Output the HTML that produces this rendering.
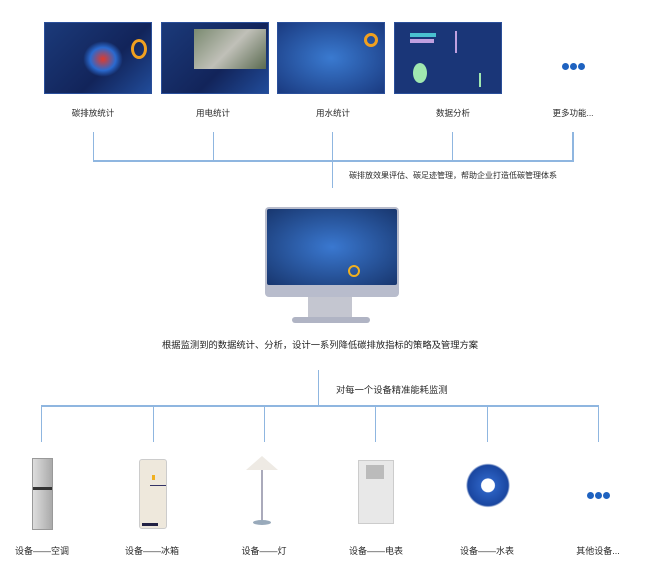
<!DOCTYPE html>
<html><head><meta charset="utf-8"><style>
body{margin:0;width:657px;height:572px;background:#fff;position:relative;overflow:hidden;font-family:"Liberation Sans","Noto Sans CJK SC",sans-serif;color:#2a2a2a}
.a{position:absolute}
.l{position:absolute;background:#8fb6e0}
.t{position:absolute;font-size:9px;white-space:nowrap;transform:translateX(-50%)}
.scr{position:absolute;top:22px;width:108px;height:72px;background:linear-gradient(135deg,#1b3a7a,#12245a 60%,#214c9a);border:1px solid #2a4f9a;box-sizing:border-box}
.dot{display:inline-block;width:7px;height:7px;border-radius:50%;background:#1e62c0;margin:0 0.5px}
</style></head><body>
<div class="scr" style="left:44px"><div class="a" style="left:38px;top:18px;width:40px;height:36px;background:radial-gradient(#e03a2a,#2a6ad0 45%,transparent 70%)"></div><div class="a" style="left:86px;top:16px;width:10px;height:14px;border:3px solid #f0a020;border-radius:50%"></div></div>
<div class="scr" style="left:161px"><div class="a" style="left:32px;top:6px;width:72px;height:40px;background:linear-gradient(135deg,#7a8a70,#c0c0b8,#5a6a50)"></div></div>
<div class="scr" style="left:277px;background:radial-gradient(#3a7ad0,#1a3a80)"><div class="a" style="left:86px;top:10px;width:8px;height:8px;border:3px solid #f0a020;border-radius:50%"></div></div>
<div class="scr" style="left:394px;background:#1a3678"><div class="a" style="left:15px;top:10px;width:26px;height:4px;background:#4ac0d0"></div><div class="a" style="left:15px;top:16px;width:24px;height:4px;background:#c0a0e0"></div><div class="a" style="left:18px;top:40px;width:14px;height:20px;background:#a0e8b0;border-radius:50%"></div><div class="a" style="left:60px;top:8px;width:2px;height:22px;background:#c0a0e0"></div><div class="a" style="left:84px;top:50px;width:2px;height:14px;background:#a0e8b0"></div></div>
<div class="a" style="left:561px;top:57px"><span class="dot"></span><span class="dot"></span><span class="dot"></span></div>
<div class="t" style="left:93px;top:107px;font-size:8.5px">碳排放统计</div>
<div class="t" style="left:213px;top:107px;font-size:8.5px">用电统计</div>
<div class="t" style="left:333px;top:107px;font-size:8.5px">用水统计</div>
<div class="t" style="left:453px;top:107px;font-size:8.5px">数据分析</div>
<div class="t" style="left:573px;top:107px;font-size:8.5px">更多功能...</div>
<div class="l" style="left:93px;top:160px;width:481px;height:2px"></div>
<div class="l" style="left:93px;top:132px;width:1px;height:29px"></div>
<div class="l" style="left:213px;top:132px;width:1px;height:29px"></div>
<div class="l" style="left:332px;top:132px;width:1px;height:56px"></div>
<div class="l" style="left:452px;top:132px;width:1px;height:29px"></div>
<div class="l" style="left:572px;top:132px;width:2px;height:29px"></div>
<div class="a" style="left:349px;top:170px;font-size:8px">碳排放效果评估、碳足迹管理，帮助企业打造低碳管理体系</div>
<div class="a" style="left:265px;top:207px;width:134px;height:90px;background:#b8bccc;border-radius:4px"></div>
<div class="a" style="left:267px;top:209px;width:130px;height:76px;background:radial-gradient(#3a78d0,#18366e);border-radius:2px"></div>
<div class="a" style="left:348px;top:265px;width:8px;height:8px;border:2px solid #f0b020;border-radius:50%"></div>
<div class="a" style="left:308px;top:297px;width:44px;height:21px;background:#c4c6d0"></div>
<div class="a" style="left:292px;top:317px;width:78px;height:6px;background:#b0b4c4;border-radius:3px"></div>
<div class="a" style="left:162px;top:337px;font-size:9.3px;color:#222">根据监测到的数据统计、分析，设计一系列降低碳排放指标的策略及管理方案</div>
<div class="l" style="left:318px;top:370px;width:1px;height:36px"></div>
<div class="a" style="left:336px;top:382px;font-size:9.3px">对每一个设备精准能耗监测</div>
<div class="l" style="left:41px;top:405px;width:558px;height:2px"></div>
<div class="l" style="left:41px;top:405px;width:1px;height:37px"></div>
<div class="l" style="left:153px;top:405px;width:1px;height:37px"></div>
<div class="l" style="left:264px;top:405px;width:1px;height:37px"></div>
<div class="l" style="left:375px;top:405px;width:1px;height:37px"></div>
<div class="l" style="left:487px;top:405px;width:1px;height:37px"></div>
<div class="l" style="left:598px;top:405px;width:1px;height:37px"></div>
<div class="a" style="left:32px;top:458px;width:19px;height:70px;background:linear-gradient(90deg,#ddd,#aaa);border:1px solid #999"><div class="a" style="left:0;top:28px;width:19px;height:3px;background:#333"></div></div>
<div class="a" style="left:139px;top:459px;width:26px;height:68px;background:#eee8dc;border:1px solid #ccc;border-radius:3px"><div class="a" style="left:2px;top:63px;width:16px;height:3px;background:#224"></div><div class="a" style="left:10px;top:25px;width:16px;height:1px;background:#336"></div><div class="a" style="left:12px;top:15px;width:3px;height:5px;background:#f0b020"></div></div>
<div class="a" style="left:246px;top:456px;width:32px;height:14px;background:#eeeae4;clip-path:polygon(50% 0,100% 100%,0 100%)"></div>
<div class="a" style="left:261px;top:470px;width:2px;height:52px;background:#aab"></div>
<div class="a" style="left:253px;top:520px;width:18px;height:5px;background:#9ab;border-radius:50%"></div>
<div class="a" style="left:358px;top:460px;width:34px;height:62px;background:#e8e8e8;border:1px solid #ccc"><div class="a" style="left:7px;top:4px;width:18px;height:14px;background:#bbb"></div></div>
<div class="a" style="left:465px;top:462px;width:46px;height:52px;background:radial-gradient(circle at 50% 45%,#fff 18%,#2a5fc0 20%,#1a46a0 55%,transparent 60%)"></div>
<div class="a" style="left:586px;top:486px"><span class="dot"></span><span class="dot"></span><span class="dot"></span></div>
<div class="t" style="left:42px;top:544px">设备——空调</div>
<div class="t" style="left:152px;top:544px">设备——冰箱</div>
<div class="t" style="left:264px;top:544px">设备——灯</div>
<div class="t" style="left:376px;top:544px">设备——电表</div>
<div class="t" style="left:487px;top:544px">设备——水表</div>
<div class="t" style="left:598px;top:544px">其他设备...</div>
</body></html>
